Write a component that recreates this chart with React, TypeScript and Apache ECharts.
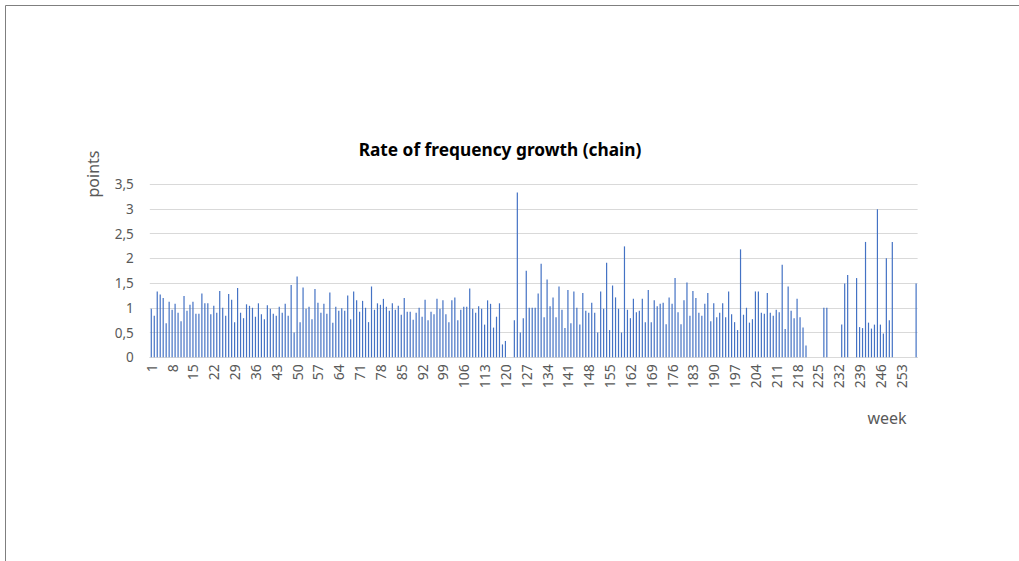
import React, { useEffect, useRef } from "react";
import * as echarts from "echarts";

const weeks1to50 = [
  0.98, 0.84, 1.33, 1.27, 1.2, 0.69, 1.12, 0.96, 1.08, 0.9,
  0.73, 1.24, 0.94, 1.06, 1.12, 0.88, 0.88, 1.29, 1.09, 1.09,
  0.87, 1.04, 0.9, 1.34, 1.0, 0.84, 1.28, 1.16, 0.71, 1.4,
  0.9, 0.79, 1.07, 1.04, 1.0, 0.82, 1.09, 0.87, 0.77, 1.05,
  0.98, 0.88, 0.84, 1.02, 0.9, 1.08, 0.84, 1.46, 0.5, 1.63,
];
const weeks51to100 = [
  0.71, 1.41, 0.98, 1.02, 0.77, 1.38, 1.1, 0.9, 1.08, 0.88,
  1.31, 0.7, 1.02, 0.94, 0.99, 0.94, 1.25, 0.77, 1.33, 1.15,
  0.92, 1.14, 1.0, 0.71, 1.43, 0.96, 1.09, 1.06, 1.18, 1.02,
  0.94, 1.09, 0.96, 1.04, 0.86, 1.2, 0.92, 0.92, 0.76, 0.9,
  1.0, 0.82, 1.16, 0.75, 0.92, 0.87, 1.18, 0.98, 1.15, 0.87,
];
const weeks101to150 = [
  0.71, 1.15, 1.21, 0.75, 0.96, 1.02, 1.02, 1.39, 0.98, 0.9,
  1.03, 0.98, 0.66, 1.15, 1.08, 0.6, 0.82, 1.09, 0.26, 0.33,
  0, 0, 0.75, 3.33, 0.5, 0.79, 1.75, 1.0, 1.0, 1.0,
  1.29, 1.89, 0.81, 1.57, 1.03, 1.21, 0.81, 1.43, 0.96, 0.59,
  1.36, 0.69, 1.33, 1.0, 0.66, 1.3, 0.94, 0.9, 1.1, 0.9,
];
const weeks151to200 = [
  0.5, 1.33, 0.98, 1.91, 0.55, 1.45, 1.21, 0.98, 0.5, 2.24,
  0.96, 0.79, 1.18, 0.91, 0.94, 1.18, 0.71, 1.36, 0.71, 1.15,
  1.03, 1.08, 1.1, 0.67, 1.21, 1.08, 1.6, 0.91, 0.67, 1.15,
  1.51, 0.84, 1.34, 1.2, 0.9, 0.84, 1.08, 1.3, 0.73, 1.09,
  0.81, 0.9, 1.09, 0.81, 1.33, 0.87, 0.71, 0.55, 2.18, 0.86,
];
const weeks201to258 = [
  1.0, 0.7, 0.77, 1.33, 1.33, 0.9, 0.88, 1.3, 0.9, 0.84,
  0.96, 0.91, 1.87, 0.57, 1.43, 0.94, 0.79, 1.18, 0.81, 0.6,
  0.24, 0, 0, 0, 0, 0, 1.0, 1.0, 0, 0,
  0, 0, 0.66, 1.49, 1.66, 0, 0, 1.6, 0.61, 0.59,
  2.33, 0.7, 0.58, 0.66, 2.99, 0.66, 0.48, 2.0, 0.75, 2.33,
  0, 0, 0, 0, 0, 0, 0, 1.49,
];

const growthRate = [
  ...weeks1to50,
  ...weeks51to100,
  ...weeks101to150,
  ...weeks151to200,
  ...weeks201to258,
];
const weekLabels = growthRate.map((_, i) => String(i + 1));

const chartTitle = "Rate of frequency growth (chain)";
const yAxisTitle = "points";
const xAxisTitle = "week";

const FONT = "'Noto Sans', 'Open Sans', sans-serif";
const GRAY = "#595959";

export default function App() {
  const ref = useRef<HTMLDivElement>(null);
  useEffect(() => {
    if (!ref.current) return;
    const chart = echarts.init(ref.current, undefined, { renderer: "svg" });
    chart.setOption({
      animation: false,
      backgroundColor: "#ffffff",
      title: {
        text: chartTitle,
        left: 495,
        top: 136,
        textAlign: "center",
        textStyle: {
          fontFamily: FONT,
          fontSize: 17.3,
          fontWeight: "bold",
          color: "#000000",
        },
      },
      grid: { left: 149.8, right: 101.4, top: 184, bottom: 203.7, containLabel: false },
      xAxis: {
        type: "category",
        data: weekLabels,
        axisLine: { show: true, lineStyle: { color: "#d9d9d9", width: 1 } },
        axisTick: { show: false },
        axisLabel: {
          interval: 6,
          rotate: 90,
          color: GRAY,
          fontFamily: FONT,
          fontSize: 14,
          margin: 7,
        },
      },
      yAxis: {
        type: "value",
        min: 0,
        max: 3.5,
        interval: 0.5,
        axisLine: { show: false },
        axisTick: { show: false },
        splitLine: { lineStyle: { color: "#d9d9d9", width: 1 } },
        axisLabel: {
          color: GRAY,
          fontFamily: FONT,
          fontSize: 13.5,
          margin: 16,
          formatter: (v: number) => String(v).replace(".", ","),
        },
      },
      series: [
        {
          type: "bar",
          data: growthRate,
          barWidth: 1.2,
          itemStyle: { color: "#4472C4" },
          silent: true,
        },
      ],
      graphic: [
        {
          type: "rect",
          shape: { x: 5.5, y: 5.5, width: 1200, height: 800 },
          style: { fill: "none", stroke: "#7f7f7f", lineWidth: 1 },
          silent: true,
        },
        {
          type: "text",
          x: 93,
          y: 174,
          rotation: Math.PI / 2,
          style: {
            text: yAxisTitle,
            fontFamily: FONT,
            fontSize: 16,
            fill: GRAY,
            align: "center",
            verticalAlign: "middle",
          },
        },
        {
          type: "text",
          x: 887,
          y: 418,
          style: {
            text: xAxisTitle,
            fontFamily: FONT,
            fontSize: 16,
            fill: GRAY,
            align: "center",
            verticalAlign: "middle",
          },
        },
      ],
    });
    return () => chart.dispose();
  }, []);
  return (
    <div
      ref={ref}
      style={{ position: "absolute", left: 0, top: 0, width: 1019, height: 561 }}
    />
  );
}
